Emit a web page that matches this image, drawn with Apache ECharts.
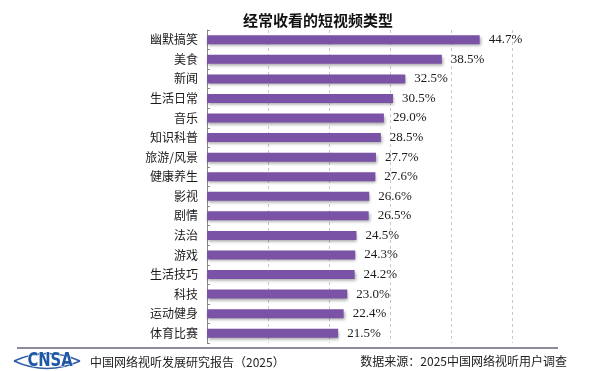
<!DOCTYPE html>
<html>
<head>
<meta charset="utf-8">
<script src="https://cdn.jsdelivr.net/npm/echarts@6/dist/echarts.min.js"></script>
<style>html,body{margin:0;padding:0;background:#fff;}#c{width:600px;height:371px;}</style>
</head>
<body>
<div id="c"></div>
<script>
var titleText = '经常收看的短视频类型';
var categories = ['幽默搞笑','美食','新闻','生活日常','音乐','知识科普','旅游/风景','健康养生','影视','剧情','法治','游戏','生活技巧','科技','运动健身','体育比赛'];
var values = [44.7, 38.5, 32.5, 30.5, 29.0, 28.5, 27.7, 27.6, 26.6, 26.5, 24.5, 24.3, 24.2, 23.0, 22.4, 21.5];
var footerLeft = '中国网络视听发展研究报告（2025）';
var footerRight = '数据来源：2025中国网络视听用户调查';
var logoText = 'CNSA';

var chart = echarts.init(document.getElementById('c'), null, {renderer: 'canvas'});
chart.setOption({
  backgroundColor: '#fff',
  animation: false,
  title: {
    text: titleText, left: 313, top: 8, textAlign: 'center',
    textStyle: {fontFamily: '"Noto Sans CJK SC"', fontWeight: 'bold', fontSize: 15, color: '#111'}
  },
  grid: {left: 207, right: 88, top: 30, bottom: 28, containLabel: false},
  xAxis: {
    type: 'value', min: 0, max: 50, interval: 10,
    axisLine: {show: false}, axisTick: {show: false}, axisLabel: {show: false},
    splitLine: {show: true, lineStyle: {type: [3, 3], color: '#c8c8c8', width: 1}}
  },
  yAxis: {
    type: 'category', data: categories, inverse: true,
    axisLine: {show: true, lineStyle: {color: '#888', width: 1}},
    axisTick: {show: true, inside: true, length: 3, lineStyle: {color: '#888'}},
    axisLabel: {fontFamily: '"Noto Sans CJK SC"', fontSize: 12, color: '#1a1a1a', margin: 9}
  },
  series: [{
    type: 'bar', data: values, barWidth: 9,
    itemStyle: {color: '#7a52a6', shadowColor: 'rgba(0,0,0,0.35)', shadowBlur: 3, shadowOffsetX: 1, shadowOffsetY: 2},
    label: {
      show: true, position: 'right', distance: 9,
      fontFamily: '"Liberation Serif"', fontSize: 13, color: '#1a1a1a',
      formatter: function (p) { return p.value.toFixed(1) + '%'; }
    }
  }],
  graphic: [
    {type: 'line', shape: {x1: 17, y1: 348, x2: 558, y2: 348}, style: {stroke: '#8e8a9c', lineWidth: 2}},
    {type: 'bezierCurve', shape: {x1: 14, y1: 361, x2: 80, y2: 361, cpx1: 47, cpy1: 346}, style: {stroke: '#2f5ea8', lineWidth: 1.5, fill: null}},
    {type: 'bezierCurve', shape: {x1: 14, y1: 361, x2: 80, y2: 361, cpx1: 47, cpy1: 376}, style: {stroke: '#2f5ea8', lineWidth: 1.5, fill: null}},
    {type: 'text', x: 50, y: 361, scaleX: 0.82, style: {text: logoText, x: 0, y: 0, align: 'center', verticalAlign: 'middle', font: 'bold 20px "DejaVu Sans Condensed"', fill: '#1f58a5', stroke: '#fff', lineWidth: 1}},
    {type: 'text', x: 90, y: 362, style: {text: footerLeft, align: 'left', verticalAlign: 'middle', font: '12px "Noto Sans CJK SC"', fill: '#222'}},
    {type: 'text', x: 567, y: 361, style: {text: footerRight, align: 'right', verticalAlign: 'middle', font: '12px "Noto Sans CJK SC"', fill: '#222'}}
  ]
});
</script>
</body>
</html>
